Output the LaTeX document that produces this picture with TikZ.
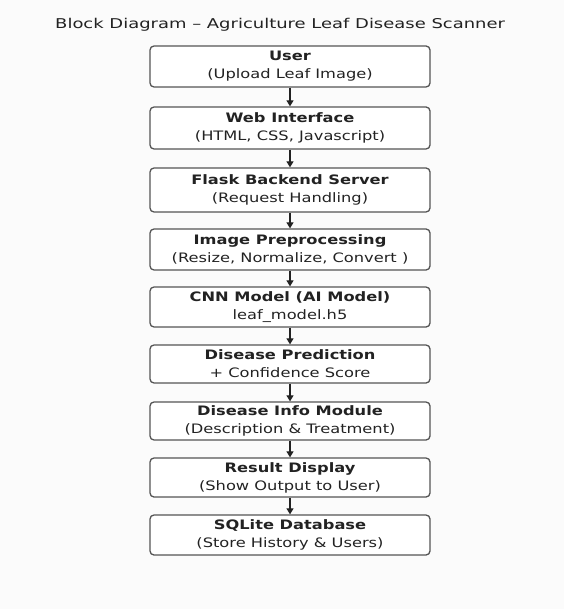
\documentclass[tikz,border=0pt]{standalone}
\usepackage{fontspec}
\setmainfont{DejaVu Sans}[FakeStretch=1.25]
\newfontfamily\titlefont{DejaVu Sans}[FakeStretch=1.33]
\usetikzlibrary{arrows.meta}
\definecolor{txt}{HTML}{222222}
\definecolor{edge}{HTML}{555555}
\definecolor{bg}{HTML}{FBFBFB}
\begin{document}
\begin{tikzpicture}[x=1pt,y=-1pt,
  block/.style={draw=edge, line width=1.3pt, rounded corners=4pt, fill=white,
    minimum width=280pt, inner sep=0pt, text=txt, align=center,
    font=\fontsize{13}{18}\selectfont},
  flow/.style={draw=txt, line width=1.2pt, -{Triangle[length=6pt,width=7pt]}}]
\fill[bg] (0,0) rectangle (564,609);
\useasboundingbox (0,0) rectangle (564,609);
\node[anchor=base west, inner sep=0pt, text=txt, font=\titlefont\fontsize{13.5}{16}\selectfont] (title) at (55,29) {Block Diagram – Agriculture Leaf Disease Scanner};
\node[block, minimum height=41pt] (b1) at (290,66.5) {\textbf{User}\\(Upload Leaf Image)};
\node[block, minimum height=42pt] (b2) at (290,128) {\textbf{Web Interface}\\(HTML, CSS, Javascript)};
\node[block, minimum height=44pt] (b3) at (290,190) {\textbf{Flask Backend Server}\\(Request Handling)};
\node[block, minimum height=41pt] (b4) at (290,249.5) {\textbf{Image Preprocessing}\\(Resize, Normalize, Convert )};
\node[block, minimum height=40pt] (b5) at (290,307) {\textbf{CNN Model (AI Model)}\\leaf\_model.h5};
\node[block, minimum height=38pt] (b6) at (290,364) {\textbf{Disease Prediction}\\+ Confidence Score};
\node[block, minimum height=38pt] (b7) at (290,421) {\textbf{Disease Info Module}\\(Description \& Treatment)};
\node[block, minimum height=39pt] (b8) at (290,477.5) {\textbf{Result Display}\\(Show Output to User)};
\node[block, minimum height=40pt] (b9) at (290,535) {\textbf{SQLite Database}\\(Store History \& Users)};
\foreach \a/\b in {b1/b2,b2/b3,b3/b4,b4/b5,b5/b6,b6/b7,b7/b8,b8/b9}
  \draw[flow] (\a.south) -- (\b.north);
\end{tikzpicture}
\end{document}
